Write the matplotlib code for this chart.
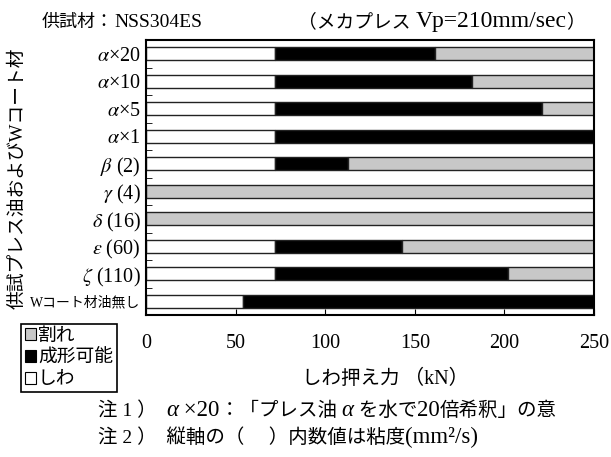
import matplotlib
matplotlib.use('Agg')
import matplotlib.pyplot as plt
from matplotlib.patches import Patch
import numpy as np

plt.rcParams['font.family'] = ['Liberation Serif', 'Noto Sans CJK JP']
plt.rcParams['mathtext.fontset'] = 'stix'

# data: top to bottom
categories = [r'$\alpha$×20', r'$\alpha$×10', r'$\alpha$×5', r'$\alpha$×1',
              r'$\beta$ (2)', r'$\gamma$ (4)', r'$\delta$ (16)', r'$\varepsilon$ (60)',
              r'$\zeta$ (110)', 'Wコート材油無し']
wrinkle_end = [72, 72, 72, 72, 72, 0, 0, 72, 72, 54]      # しわ
formable_end = [161, 182, 221, 250, 113, 0, 0, 143, 202, 250]  # 成形可能
max_force = 250                                          # 割れ up to end
xticks = [0, 50, 100, 150, 200, 250]

legend_labels = ['割れ', '成形可能', 'しわ']
col_crack = '#c8c8c8'
col_ok = 'black'
col_wrinkle = 'white'

W, H = 611, 457
fig = plt.figure(figsize=(W / 100, H / 100), dpi=100)
ax = fig.add_axes([146 / W, 1 - 315 / H, 448 / W, 275 / H])

y = np.arange(len(categories))
wr = np.array(wrinkle_end)
fo = np.array(formable_end)
ok_w = np.clip(fo - wr, 0, None)
ok_start = wr
crack_start = np.maximum(fo, wr)
crack_w = max_force - crack_start

kw = dict(height=0.48, edgecolor='#222222', linewidth=1.0)
ax.barh(y, wr, left=0, color=col_wrinkle, **kw)
ax.barh(y, ok_w, left=ok_start, color=col_ok, **kw)
ax.barh(y, crack_w, left=crack_start, color=col_crack, **kw)

ax.set_xlim(0, 250)
ax.set_ylim(len(categories) - 0.5, -0.5)
ax.set_xticks(xticks)
ax.set_xticklabels([str(t) for t in xticks])
ax.tick_params(axis='x', direction='in', length=4, pad=14, labelsize=14.5)
ax.set_yticks(y)
ax.set_yticks(np.arange(len(categories) + 1) - 0.5, minor=True)
ax.tick_params(axis='y', which='major', length=0, pad=4)
ax.tick_params(axis='y', which='minor', direction='in', length=4)
labels = ax.set_yticklabels(categories)
for i, lab in enumerate(labels):
    if i == len(categories) - 1:
        lab.set_fontsize(10)
    else:
        lab.set_fontsize(14.5)
for sp in ax.spines.values():
    sp.set_linewidth(1.5)

renderer = fig.canvas.get_renderer()


def RunText(x0, y0, parts):
    # parts: (text, size, style); placed one after another on a baseline
    x = x0
    for s, size, style in parts:
        t = fig.text(x / W, 1 - y0 / H, s, fontsize=size, style=style,
                     ha='left', va='baseline')
        x = t.get_window_extent(renderer).x1


RunText(42, 27, [('供試材：', 13, 'normal'), ('NSS304ES', 14, 'normal')])
RunText(298, 27, [('（メカプレス ', 13.5, 'normal'), ('Vp=210mm/sec', 17, 'normal'),
                  ('）', 13.5, 'normal')])
RunText(302, 384, [('しわ押え力 ', 14, 'normal'), ('（kN）', 14.5, 'normal')])
RunText(98, 416, [('注 1 ）  ', 14, 'normal'), ('α', 16.5, 'italic'),
                  (' ×20', 16.5, 'normal'), ('：「プレス油 ', 14, 'normal'),
                  ('α', 16.5, 'italic'), (' を水で', 14, 'normal'),
                  ('20', 16.5, 'normal'), ('倍希釈」の意', 14, 'normal')])
RunText(98, 443, [('注 2 ）  縦軸の（ 　）内数値は粘度', 14, 'normal'),
                  ('(mm²/s)', 16.5, 'normal')])

fig.text(18 / W, 1 - 178 / H, '供試プレス油およびWコート材', fontsize=13.5,
         rotation=90, ha='center', va='center')

handles = [Patch(facecolor=c, edgecolor='black', linewidth=0.8)
           for c in [col_crack, col_ok, col_wrinkle]]
leg = fig.legend(handles, legend_labels, loc='upper left',
                 bbox_to_anchor=(21 / W, 1 - 324 / H),
                 fontsize=13.5, handlelength=0.6, handleheight=0.6,
                 handletextpad=0.1, borderpad=0.2, labelspacing=0.25,
                 borderaxespad=0, fancybox=False, framealpha=1)
leg.get_frame().set_edgecolor('black')
leg.get_frame().set_linewidth(1.2)

fig.savefig('out.png', dpi=100)
